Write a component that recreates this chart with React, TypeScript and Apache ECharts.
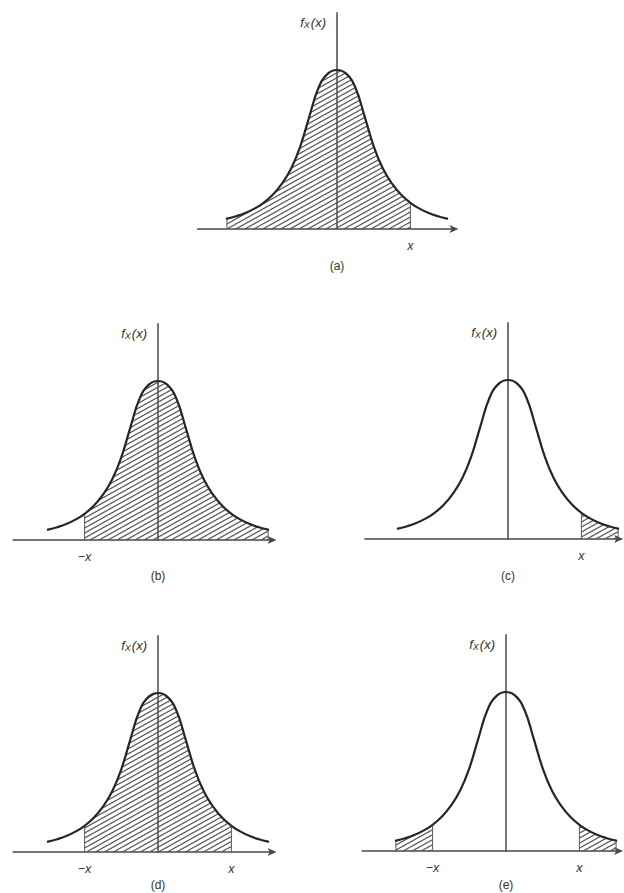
import { useEffect, useRef } from "react";
import * as echarts from "echarts";

// Standardised abscissa of the bell curve and its height (peak = 1).
const Z = [
  -3, -2.75, -2.5, -2.25, -2, -1.75, -1.5, -1.25, -1, -0.75, -0.5, -0.25, 0,
  0.25, 0.5, 0.75, 1, 1.25, 1.5, 1.75, 2, 2.25, 2.5, 2.75, 3,
];
const DENSITY = [
  0.065, 0.08, 0.1, 0.128, 0.165, 0.215, 0.285, 0.38, 0.52, 0.71, 0.89, 0.977,
  1.0, 0.977, 0.89, 0.71, 0.52, 0.38, 0.285, 0.215, 0.165, 0.128, 0.1, 0.08,
  0.065,
];

// One entry per panel: caption, hatched intervals, marked abscissae.
const PANEL_TAGS = ["(a)", "(b)", "(c)", "(d)", "(e)"];
const SHADED: number[][][] = [
  [[-3, 2]],
  [[-2, 3]],
  [[2, 3]],
  [[-2, 2]],
  [[-3, -2], [2, 3]],
];
const TICK_VALUES = [[2], [-2], [2], [-2, 2], [-2, 2]];
const TICK_TEXT: Record<string, string> = { "-2": "−x", "2": "x" };
const Y_NAME = "{f|f}{s|X}{p|(x)}";

// Page layout of each panel (pixels) and axis extents.
const PX_X = 36.7;
const PX_Y = 159;
const Y_MAX = 1.36;
const LAYOUT = [
  { cx: 337, base: 229, xMin: -3.8, xMax: 3.2, cap: 37 },
  { cx: 158, base: 540, xMin: -3.95, xMax: 3.12, cap: 36 },
  { cx: 508, base: 539, xMin: -3.9, xMax: 3.03, cap: 37 },
  { cx: 158, base: 852, xMin: -3.95, xMax: 3.12, cap: 33 },
  { cx: 506, base: 851, xMin: -3.92, xMax: 3.08, cap: 34 },
];

const FONT = "'Liberation Sans', Arial, sans-serif";
const INK = "#262626";
const AXIS = "#484848";

function hatchImage(): string {
  const w = 9;
  const h = 5;
  const c = document.createElement("canvas");
  c.width = w;
  c.height = h;
  const g = c.getContext("2d")!;
  g.strokeStyle = "#555555";
  g.lineWidth = 1.15;
  for (const dx of [-w, 0, w]) {
    for (const dy of [-h, 0, h]) {
      g.beginPath();
      g.moveTo(dx, h + dy);
      g.lineTo(w + dx, dy);
      g.stroke();
    }
  }
  return c.toDataURL();
}

const curve = Z.map((z, i) => [z, DENSITY[i]]);
const valueAt = (z: number) => DENSITY[Z.indexOf(z)];

function buildOption() {
  const pattern = {
    image: hatchImage(),
    repeat: "repeat",
    imageWidth: 9,
    imageHeight: 5,
  };
  const grid: any[] = [];
  const xAxis: any[] = [];
  const yAxis: any[] = [];
  const series: any[] = [];
  const graphic: any[] = [];

  LAYOUT.forEach((p, i) => {
    grid.push({
      left: p.cx + p.xMin * PX_X,
      width: (p.xMax - p.xMin) * PX_X,
      top: p.base - Y_MAX * PX_Y,
      height: Y_MAX * PX_Y,
    });
    xAxis.push({
      type: "value",
      gridIndex: i,
      min: p.xMin,
      max: p.xMax,
      splitLine: { show: false },
      axisTick: { show: false },
      axisLine: {
        onZero: false,
        lineStyle: { color: AXIS, width: 1.5 },
        symbol: ["none", "arrow"],
        symbolSize: [6, 9],
        symbolOffset: [0, 4],
      },
      axisLabel: {
        customValues: TICK_VALUES[i],
        formatter: (v: number) => TICK_TEXT[String(v)] ?? "",
        margin: 10,
        color: "#333",
        fontSize: 12.5,
        fontStyle: "italic",
        fontFamily: FONT,
      },
    });
    yAxis.push({
      type: "value",
      gridIndex: i,
      min: 0,
      max: Y_MAX,
      splitLine: { show: false },
      axisTick: { show: false },
      axisLabel: { show: false },
      axisLine: { show: true, onZero: true, lineStyle: { color: AXIS, width: 1.5 } },
      name: Y_NAME,
      nameLocation: "end",
      nameGap: -3,
      nameTextStyle: {
        align: "right",
        verticalAlign: "top",
        padding: [0, 11, 0, 0],
        rich: {
          f: { fontSize: 13, fontStyle: "italic", fontFamily: FONT, color: "#333", lineHeight: 14 },
          s: { fontSize: 9, fontStyle: "italic", fontFamily: FONT, color: "#333", lineHeight: 14, verticalAlign: "bottom", padding: [5, 1, 0, 0] },
          p: { fontSize: 13, fontStyle: "italic", fontFamily: FONT, color: "#333", lineHeight: 14 },
        },
      },
    });

    SHADED[i].forEach(([a, b]) => {
      series.push({
        type: "line",
        xAxisIndex: i,
        yAxisIndex: i,
        data: curve.filter(([z]) => z >= a && z <= b),
        smooth: 0.45,
        showSymbol: false,
        silent: true,
        lineStyle: { width: 0, opacity: 0 },
        areaStyle: { color: pattern, opacity: 1, origin: "start" },
        z: 1,
      });
      [a, b].forEach((e) => {
        series.push({
          type: "line",
          xAxisIndex: i,
          yAxisIndex: i,
          data: [
            [e, 0],
            [e, valueAt(e)],
          ],
          showSymbol: false,
          silent: true,
          lineStyle: { color: "#5a5a5a", width: 1 },
          z: 2,
        });
      });
    });

    series.push({
      type: "line",
      xAxisIndex: i,
      yAxisIndex: i,
      data: curve,
      smooth: 0.45,
      showSymbol: false,
      silent: true,
      lineStyle: { color: INK, width: 2.2, cap: "round" },
      z: 3,
    });

    graphic.push({
      type: "text",
      x: p.cx,
      y: p.base + p.cap,
      style: {
        text: PANEL_TAGS[i],
        align: "center",
        verticalAlign: "middle",
        fontSize: 12,
        fontFamily: FONT,
        fill: "#333",
      },
    });
  });

  return {
    animation: false,
    backgroundColor: "#ffffff",
    grid,
    xAxis,
    yAxis,
    series,
    graphic,
  };
}

export default function App() {
  const ref = useRef<HTMLDivElement>(null);
  useEffect(() => {
    if (!ref.current) return;
    const chart = echarts.init(ref.current, undefined, { renderer: "svg" });
    chart.setOption(buildOption() as any);
    return () => chart.dispose();
  }, []);
  return (
    <div
      ref={ref}
      style={{ position: "fixed", left: 0, top: 0, width: 624, height: 893, background: "#fff" }}
    />
  );
}
